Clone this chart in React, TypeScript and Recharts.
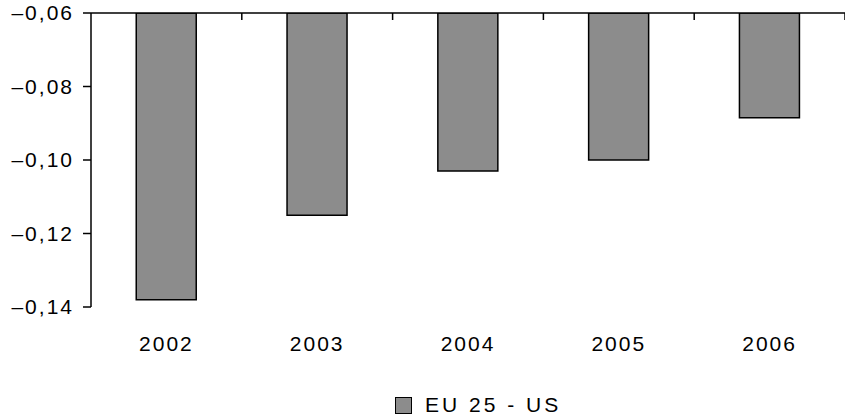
import { BarChart, Bar, XAxis, YAxis, Legend } from "recharts";

document.body.style.margin = "0";

const years = ["2002", "2003", "2004", "2005", "2006"];
const gap = [-0.138, -0.115, -0.103, -0.1, -0.0885];
const yTicks = [-0.14, -0.12, -0.1, -0.08, -0.06];
const seriesName = "EU 25 - US";

const data = years.map((year, i) => ({ year, value: gap[i] }));

const font = "'Liberation Sans', Arial, sans-serif";
const barFill = "#8c8c8c";

const fmt = (v: number) => "\u2013" + Math.abs(v).toFixed(2).replace(".", ",");

// tick mark at the right edge of each category band, pointing down into the plot
function BoundaryTick(props: any) {
  const { x, y, payload } = props;
  const bx = x + (payload?.offset ?? 0);
  return <line x1={bx} x2={bx} y1={y} y2={y + 7} stroke="#000" strokeWidth={1.5} />;
}

function LegendBox() {
  return (
    <div
      style={{
        height: 26,
        display: "flex",
        alignItems: "center",
        paddingLeft: 395,
        fontFamily: font,
        fontSize: 21,
        letterSpacing: 3,
        color: "#000",
      }}
    >
      <span
        style={{
          width: 15,
          height: 15,
          background: barFill,
          border: "1.5px solid #000",
          marginRight: 13,
        }}
      />
      <span>{seriesName}</span>
    </div>
  );
}

export default function App() {
  return (
    <BarChart
      width={845}
      height={418}
      data={data}
      margin={{ top: 12, right: 0, bottom: 0, left: 0 }}
      barCategoryGap="30%"
    >
      <XAxis
        xAxisId="cat"
        dataKey="year"
        orientation="bottom"
        height={85}
        axisLine={false}
        tickLine={false}
        tickSize={0}
        tickMargin={29}
        tick={{ fontFamily: font, fontSize: 21, letterSpacing: 2, fill: "#000" }}
      />
      <XAxis
        xAxisId="top"
        dataKey="year"
        orientation="top"
        height={1}
        interval={0}
        tickSize={0}
        tickMargin={0}
        tickLine={false}
        tick={<BoundaryTick />}
        axisLine={{ stroke: "#000", strokeWidth: 1.5 }}
      />
      <YAxis
        domain={[-0.14, -0.06]}
        ticks={yTicks}
        width={91}
        tickSize={8}
        tickMargin={9}
        tickFormatter={fmt}
        axisLine={{ stroke: "#000", strokeWidth: 1.5 }}
        tickLine={{ stroke: "#000", strokeWidth: 1.5 }}
        tick={{ fontFamily: font, fontSize: 21, letterSpacing: 2, fill: "#000" }}
        allowDataOverflow
      />
      <Legend verticalAlign="bottom" content={<LegendBox />} />
      <Bar
        xAxisId="cat"
        dataKey="value"
        name={seriesName}
        fill={barFill}
        stroke="#000"
        strokeWidth={1.5}
        isAnimationActive={false}
      />
    </BarChart>
  );
}
